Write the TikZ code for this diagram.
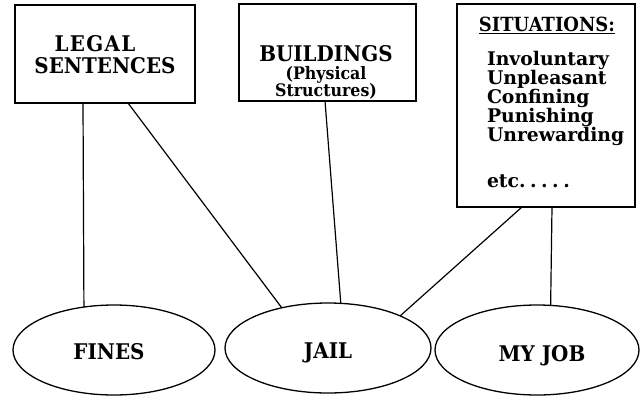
\documentclass[tikz,border=0pt]{standalone}
\usepackage{fontspec}
\setmainfont{DejaVu Serif}[FakeStretch=0.92]
\newfontfamily\spacedserif{DejaVu Serif}[FakeStretch=0.92,LetterSpace=6]
\newfontfamily\listserif{DejaVu Serif}
\usetikzlibrary{shapes.geometric}
\begin{document}
\begin{tikzpicture}[x=1pt,y=-1pt,
  every node/.style={inner sep=0pt,outer sep=0pt},
  boxnode/.style={draw,line width=1.3pt,rectangle},
  ovalnode/.style={draw,line width=1.3pt,ellipse,minimum height=90pt},
  conn/.style={line width=1.2pt},
  lbl/.style={font=\fontsize{21.6}{22}\selectfont\bfseries,anchor=base},
  sml/.style={font=\fontsize{17.2}{18}\selectfont\bfseries,anchor=base},
  lst/.style={font=\listserif\fontsize{18.8}{19}\selectfont\bfseries,anchor=base west}]
\useasboundingbox (0,0) rectangle (642,397);
% boxes
\node[boxnode,minimum width=180pt,minimum height=98pt] (legal) at (105,54) {};
\node[boxnode,minimum width=177pt,minimum height=97pt] (bldg) at (327.5,52.5) {};
\node[boxnode,minimum width=178pt,minimum height=203pt] (sit) at (546,105.5) {};
% ellipses
\node[ovalnode,minimum width=202pt] (fines) at (114,350) {};
\node[ovalnode,minimum width=206pt] (jail) at (328,348) {};
\node[ovalnode,minimum width=204pt] (job) at (537,350) {};
% texts
\node[lbl,font=\spacedserif\fontsize{21.6}{22}\selectfont\bfseries] (t1) at (95,51) {LEGAL};
\node[lbl] (t2) at (105,73) {SENTENCES};
\node[lbl] (t3) at (326,61) {BUILDINGS};
\node[sml] (t4) at (326,79.5) {(Physical};
\node[sml] (t5) at (326,96) {Structures)};
\node[lbl,font=\fontsize{19.5}{20}\selectfont\bfseries] (t6) at (547,31.5) {\underline{SITUATIONS:}};
\node[lst] (t7) at (487,65) {Involuntary};
\node[lst] (t8) at (487,84) {Unpleasant};
\node[lst] (t9) at (487,103) {Confining};
\node[lst] (t10) at (487,122) {Punishing};
\node[lst] (t11) at (487,141) {Unrewarding};
\node[lst] (t12) at (487,187) {etc.\kern4.5pt.\kern4.5pt.\kern4.5pt.\kern4.5pt.};
\node[lbl] (t13) at (109,359.5) {FINES};
\node[lbl] (t14) at (328,358.5) {JAIL};
\node[lbl] (t15) at (542,361.5) {MY JOB};
% connectors
\draw[conn] ([xshift=-22pt]legal.south) -- (fines.125.8);
\draw[conn] ([xshift=23pt]legal.south) -- (jail.139.1);
\draw[conn] ([xshift=-2.5pt]bldg.south) -- (jail.74.7);
\draw[conn] ([xshift=-24pt]sit.south) -- (jail.24.6);
\draw[conn] ([xshift=6pt]sit.south) -- (job.73.9);
\end{tikzpicture}
\end{document}
